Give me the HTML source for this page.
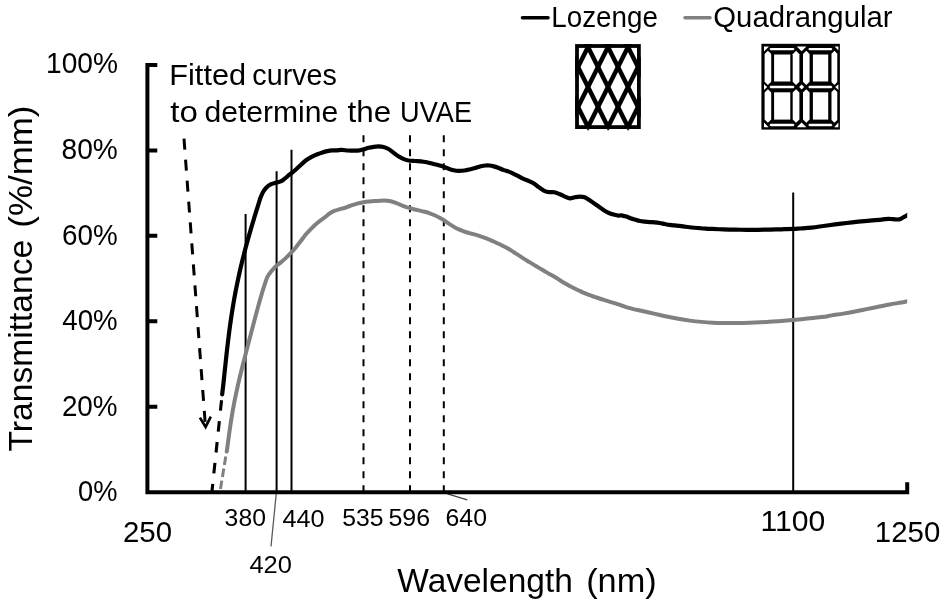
<!DOCTYPE html>
<html><head><meta charset="utf-8"><title>Transmittance chart</title>
<style>html,body{margin:0;padding:0;background:#fff;width:944px;height:605px;overflow:hidden}svg{display:block;will-change:transform}text{font-family:"Liberation Sans",sans-serif}</style>
</head><body>
<svg width="944" height="605" viewBox="0 0 944 605" font-family="Liberation Sans, sans-serif">
<rect width="944" height="605" fill="#fff"/>
<line x1="245.60" y1="214.00" x2="245.60" y2="491.00" stroke="#000" stroke-width="2.00"/>
<line x1="276.60" y1="171.30" x2="276.60" y2="491.00" stroke="#000" stroke-width="2.00"/>
<line x1="291.50" y1="149.80" x2="291.50" y2="491.00" stroke="#000" stroke-width="2.00"/>
<line x1="793.20" y1="192.50" x2="793.20" y2="491.00" stroke="#000" stroke-width="2.00"/>
<line x1="363.50" y1="135.20" x2="363.50" y2="491.00" stroke="#000" stroke-width="2.00" stroke-dasharray="7 7"/>
<line x1="410.00" y1="135.20" x2="410.00" y2="491.00" stroke="#000" stroke-width="2.00" stroke-dasharray="7 7"/>
<line x1="443.80" y1="135.20" x2="443.80" y2="491.00" stroke="#000" stroke-width="2.00" stroke-dasharray="7 7"/>
<clipPath id="plotclip"><rect x="150" y="60" width="757.20" height="440"/></clipPath>
<g clip-path="url(#plotclip)">
<path d="M226.78,451.50 C226.89,450.67 227.23,448.18 227.46,446.52 C227.68,444.86 227.90,443.20 228.12,441.54 C228.34,439.88 228.56,438.22 228.79,436.56 C229.01,434.90 229.24,433.24 229.47,431.58 C229.71,429.92 229.94,428.26 230.19,426.60 C230.43,424.94 230.68,423.28 230.94,421.62 C231.20,419.96 231.46,418.30 231.74,416.64 C232.01,414.98 232.29,413.32 232.58,411.66 C232.87,410.00 233.17,408.34 233.48,406.68 C233.79,405.02 234.11,403.36 234.43,401.70 C234.75,400.04 235.09,398.38 235.43,396.72 C235.77,395.06 236.12,393.40 236.48,391.74 C236.84,390.08 237.20,388.42 237.58,386.76 C237.95,385.10 238.33,383.44 238.71,381.78 C239.10,380.12 239.49,378.46 239.89,376.80 C240.29,375.14 240.69,373.48 241.10,371.82 C241.51,370.16 241.92,368.50 242.33,366.84 C242.75,365.18 243.17,363.52 243.59,361.86 C244.02,360.20 244.44,358.54 244.87,356.88 C245.30,355.22 245.73,353.56 246.16,351.90 C246.59,350.24 247.02,348.58 247.46,346.92 C247.89,345.26 248.32,343.60 248.76,341.94 C249.19,340.28 249.63,338.62 250.06,336.96 C250.50,335.30 250.93,333.64 251.37,331.98 C251.81,330.32 252.24,328.66 252.68,327.00 C253.12,325.34 253.55,323.68 253.99,322.02 C254.43,320.36 254.87,318.70 255.31,317.04 C255.75,315.38 256.19,313.72 256.64,312.06 C257.09,310.40 257.53,308.74 257.99,307.08 C258.45,305.42 258.90,303.76 259.37,302.10 C259.84,300.44 260.31,298.78 260.79,297.12 C261.28,295.46 261.77,293.80 262.28,292.14 C262.78,290.48 263.30,288.82 263.84,287.16 C264.37,285.50 264.92,283.84 265.49,282.18 C266.07,280.52 266.37,278.95 267.28,277.20 C268.18,275.45 269.41,273.57 270.90,271.70 C272.39,269.83 274.55,267.55 276.20,266.00 C277.85,264.45 279.22,263.72 280.80,262.40 C282.38,261.08 284.05,259.63 285.70,258.10 C287.35,256.57 289.05,254.93 290.70,253.20 C292.35,251.47 293.95,249.68 295.60,247.70 C297.25,245.72 298.95,243.45 300.60,241.30 C302.25,239.15 303.85,236.78 305.50,234.80 C307.15,232.82 308.83,231.13 310.50,229.40 C312.17,227.67 313.85,225.88 315.50,224.40 C317.15,222.92 318.78,221.73 320.40,220.50 C322.02,219.27 323.62,218.22 325.20,217.00 C326.78,215.78 328.28,214.25 329.90,213.20 C331.52,212.15 333.25,211.37 334.90,210.70 C336.55,210.03 338.15,209.68 339.80,209.20 C341.45,208.72 343.15,208.33 344.80,207.80 C346.45,207.27 348.05,206.58 349.70,206.00 C351.35,205.42 353.05,204.80 354.70,204.30 C356.35,203.80 357.95,203.38 359.60,203.00 C361.25,202.62 362.93,202.25 364.60,202.00 C366.27,201.75 367.95,201.65 369.60,201.50 C371.25,201.35 372.85,201.22 374.50,201.10 C376.15,200.98 377.85,200.88 379.50,200.80 C381.15,200.72 382.75,200.57 384.40,200.60 C386.05,200.63 387.75,200.72 389.40,201.00 C391.05,201.28 392.65,201.75 394.30,202.30 C395.95,202.85 397.53,203.57 399.30,204.30 C401.07,205.03 403.13,206.07 404.90,206.70 C406.67,207.33 408.25,207.63 409.90,208.10 C411.55,208.57 413.15,209.08 414.80,209.50 C416.45,209.92 418.15,210.22 419.80,210.60 C421.45,210.98 423.05,211.35 424.70,211.80 C426.35,212.25 428.05,212.72 429.70,213.30 C431.35,213.88 432.95,214.55 434.60,215.30 C436.25,216.05 437.93,216.90 439.60,217.80 C441.27,218.70 442.95,219.63 444.60,220.70 C446.25,221.77 447.85,223.12 449.50,224.20 C451.15,225.28 452.85,226.30 454.50,227.20 C456.15,228.10 457.75,228.87 459.40,229.60 C461.05,230.33 462.75,231.02 464.40,231.60 C466.05,232.18 467.65,232.63 469.30,233.10 C470.95,233.57 472.53,233.90 474.30,234.40 C476.07,234.90 478.13,235.53 479.90,236.10 C481.67,236.67 483.25,237.18 484.90,237.80 C486.55,238.42 488.15,239.10 489.80,239.80 C491.45,240.50 493.15,241.25 494.80,242.00 C496.45,242.75 498.05,243.50 499.70,244.30 C501.35,245.10 503.05,245.93 504.70,246.80 C506.35,247.67 507.95,248.52 509.60,249.50 C511.25,250.48 512.93,251.63 514.60,252.70 C516.27,253.77 517.95,254.83 519.60,255.90 C521.25,256.97 522.85,258.07 524.50,259.10 C526.15,260.13 527.85,261.10 529.50,262.10 C531.15,263.10 532.75,264.10 534.40,265.10 C536.05,266.10 537.75,267.12 539.40,268.10 C541.05,269.08 542.65,270.02 544.30,271.00 C545.95,271.98 547.53,273.00 549.30,274.00 C551.07,275.00 553.13,275.95 554.90,277.00 C556.67,278.05 558.25,279.25 559.90,280.30 C561.55,281.35 563.15,282.35 564.80,283.30 C566.45,284.25 568.15,285.13 569.80,286.00 C571.45,286.87 573.05,287.68 574.70,288.50 C576.35,289.32 578.05,290.12 579.70,290.90 C581.35,291.68 582.95,292.48 584.60,293.20 C586.25,293.92 587.93,294.58 589.60,295.20 C591.27,295.82 592.95,296.35 594.60,296.90 C596.25,297.45 597.85,297.97 599.50,298.50 C601.15,299.03 602.85,299.55 604.50,300.06 C606.15,300.58 607.75,301.09 609.40,301.59 C611.05,302.10 612.75,302.59 614.40,303.10 C616.05,303.61 617.65,304.09 619.30,304.65 C620.95,305.21 622.23,305.77 624.30,306.43 C626.37,307.09 628.53,307.84 631.70,308.63 C634.87,309.42 639.42,310.32 643.30,311.19 C647.18,312.07 651.12,313.00 655.00,313.88 C658.88,314.76 662.72,315.66 666.60,316.48 C670.48,317.30 674.42,318.10 678.30,318.79 C682.18,319.48 686.02,320.09 689.90,320.61 C693.78,321.12 697.72,321.54 701.60,321.88 C705.48,322.22 709.32,322.47 713.20,322.66 C717.08,322.85 721.82,322.95 724.90,323.02 C727.98,323.08 728.63,323.08 731.70,323.06 C734.77,323.03 739.42,322.97 743.30,322.88 C747.18,322.78 751.12,322.65 755.00,322.49 C758.88,322.33 762.72,322.13 766.60,321.91 C770.48,321.69 774.42,321.44 778.30,321.16 C782.18,320.89 786.02,320.58 789.90,320.25 C793.78,319.92 797.72,319.54 801.60,319.16 C805.48,318.78 809.32,318.36 813.20,317.96 C817.08,317.55 821.82,317.15 824.90,316.72 C827.98,316.29 828.63,315.87 831.70,315.36 C834.77,314.85 839.42,314.29 843.30,313.65 C847.18,313.01 851.12,312.27 855.00,311.52 C858.88,310.77 862.72,309.94 866.60,309.13 C870.48,308.33 874.42,307.47 878.30,306.69 C882.18,305.90 886.02,305.11 889.90,304.41 C893.78,303.72 898.42,303.09 901.60,302.52 C904.78,301.96 907.77,301.25 909.00,301.00" fill="none" stroke="#808080" stroke-width="4.00" stroke-linejoin="round" stroke-linecap="round"/>
<path d="M222.18,394.30 C222.28,393.46 222.57,390.95 222.76,389.27 C222.96,387.59 223.14,385.92 223.33,384.24 C223.51,382.56 223.69,380.88 223.88,379.21 C224.06,377.53 224.24,375.85 224.41,374.18 C224.59,372.50 224.77,370.82 224.95,369.15 C225.12,367.47 225.30,365.79 225.48,364.12 C225.66,362.44 225.84,360.76 226.02,359.08 C226.20,357.41 226.38,355.73 226.57,354.05 C226.75,352.38 226.94,350.70 227.13,349.02 C227.32,347.35 227.51,345.67 227.71,343.99 C227.91,342.32 228.11,340.64 228.31,338.96 C228.52,337.28 228.73,335.61 228.94,333.93 C229.15,332.25 229.37,330.58 229.60,328.90 C229.82,327.22 230.05,325.55 230.28,323.87 C230.52,322.19 230.76,320.52 231.00,318.84 C231.25,317.16 231.50,315.48 231.76,313.81 C232.02,312.13 232.29,310.45 232.56,308.78 C232.83,307.10 233.11,305.42 233.39,303.75 C233.68,302.07 233.97,300.39 234.27,298.72 C234.57,297.04 234.88,295.36 235.19,293.68 C235.51,292.01 235.83,290.33 236.16,288.65 C236.49,286.98 236.82,285.30 237.17,283.62 C237.51,281.95 237.86,280.27 238.22,278.59 C238.58,276.92 238.94,275.24 239.32,273.56 C239.69,271.88 240.07,270.21 240.46,268.53 C240.85,266.85 241.25,265.18 241.65,263.50 C242.05,261.82 242.46,260.15 242.88,258.47 C243.30,256.79 243.72,255.12 244.15,253.44 C244.58,251.76 245.02,250.08 245.47,248.41 C245.91,246.73 246.36,245.05 246.82,243.38 C247.28,241.70 247.74,240.02 248.21,238.35 C248.68,236.67 249.16,234.99 249.64,233.32 C250.12,231.64 250.61,229.96 251.10,228.28 C251.59,226.61 252.09,224.93 252.59,223.25 C253.09,221.58 253.60,219.90 254.11,218.22 C254.62,216.55 255.13,214.87 255.65,213.19 C256.17,211.52 256.69,209.84 257.21,208.16 C257.73,206.48 258.26,204.81 258.79,203.13 C259.32,201.45 259.65,199.99 260.38,198.10 C261.12,196.21 262.15,193.62 263.20,191.80 C264.25,189.98 265.45,188.45 266.70,187.20 C267.95,185.95 269.35,184.98 270.70,184.30 C272.05,183.62 273.12,183.58 274.80,183.10 C276.48,182.62 279.15,182.13 280.80,181.40 C282.45,180.67 283.38,179.73 284.70,178.70 C286.02,177.67 287.53,176.15 288.70,175.20 C289.87,174.25 290.55,173.92 291.70,173.00 C292.85,172.08 294.28,170.87 295.60,169.70 C296.92,168.53 298.27,167.23 299.60,166.00 C300.93,164.77 302.28,163.42 303.60,162.30 C304.92,161.18 306.02,160.28 307.50,159.30 C308.98,158.32 310.85,157.25 312.50,156.40 C314.15,155.55 315.75,154.87 317.40,154.20 C319.05,153.53 320.75,152.92 322.40,152.40 C324.05,151.88 325.65,151.43 327.30,151.10 C328.95,150.77 330.77,150.52 332.30,150.40 C333.83,150.28 334.90,150.48 336.50,150.40 C338.10,150.32 340.02,149.88 341.90,149.90 C343.78,149.92 345.82,150.37 347.80,150.50 C349.78,150.63 351.82,150.73 353.80,150.70 C355.78,150.67 358.05,150.53 359.70,150.30 C361.35,150.07 362.20,149.72 363.70,149.30 C365.20,148.88 367.05,148.22 368.70,147.80 C370.35,147.38 371.95,147.03 373.60,146.80 C375.25,146.57 376.95,146.37 378.60,146.40 C380.25,146.43 381.85,146.57 383.50,147.00 C385.15,147.43 386.85,148.07 388.50,149.00 C390.15,149.93 391.75,151.38 393.40,152.60 C395.05,153.82 396.75,155.25 398.40,156.30 C400.05,157.35 401.65,158.20 403.30,158.90 C404.95,159.60 406.37,160.15 408.30,160.50 C410.23,160.85 412.80,160.87 414.90,161.00 C417.00,161.13 418.92,161.08 420.90,161.30 C422.88,161.52 424.82,161.88 426.80,162.30 C428.78,162.72 430.82,163.30 432.80,163.80 C434.78,164.30 436.88,164.80 438.70,165.30 C440.52,165.80 442.05,166.23 443.70,166.80 C445.35,167.37 446.95,168.13 448.60,168.70 C450.25,169.27 451.95,169.83 453.60,170.20 C455.25,170.57 456.68,170.85 458.50,170.90 C460.32,170.95 462.52,170.78 464.50,170.50 C466.48,170.22 468.42,169.68 470.40,169.20 C472.38,168.72 474.63,168.08 476.40,167.60 C478.17,167.12 479.48,166.65 481.00,166.30 C482.52,165.95 484.08,165.63 485.50,165.50 C486.92,165.37 488.10,165.35 489.50,165.50 C490.90,165.65 492.35,165.98 493.90,166.40 C495.45,166.82 497.15,167.38 498.80,168.00 C500.45,168.62 502.15,169.50 503.80,170.10 C505.45,170.70 507.05,170.98 508.70,171.60 C510.35,172.22 512.03,173.02 513.70,173.80 C515.37,174.58 517.05,175.45 518.70,176.30 C520.35,177.15 521.95,178.13 523.60,178.90 C525.25,179.67 526.95,180.18 528.60,180.90 C530.25,181.62 532.02,182.32 533.50,183.20 C534.98,184.08 536.18,185.22 537.50,186.20 C538.82,187.18 540.08,188.23 541.40,189.10 C542.72,189.97 544.07,190.90 545.40,191.40 C546.73,191.90 547.92,191.97 549.40,192.10 C550.88,192.23 552.53,191.83 554.30,192.20 C556.07,192.57 558.23,193.57 560.00,194.30 C561.77,195.03 563.25,195.92 564.90,196.60 C566.55,197.28 568.25,198.28 569.90,198.40 C571.55,198.52 573.15,197.60 574.80,197.30 C576.45,197.00 578.15,196.60 579.80,196.60 C581.45,196.60 583.05,196.68 584.70,197.30 C586.35,197.92 588.05,199.23 589.70,200.30 C591.35,201.37 592.95,202.55 594.60,203.70 C596.25,204.85 597.93,206.03 599.60,207.20 C601.27,208.37 602.95,209.70 604.60,210.70 C606.25,211.70 607.85,212.52 609.50,213.20 C611.15,213.88 613.02,214.40 614.50,214.80 C615.98,215.20 617.25,215.52 618.40,215.60 C619.55,215.68 620.07,215.13 621.40,215.30 C622.73,215.47 624.75,216.07 626.40,216.60 C628.05,217.13 629.87,218.00 631.30,218.50 C632.73,219.00 633.57,219.18 635.00,219.60 C636.43,220.02 638.25,220.65 639.90,221.00 C641.55,221.35 643.25,221.50 644.90,221.68 C646.55,221.85 648.15,221.96 649.80,222.07 C651.45,222.19 653.15,222.22 654.80,222.38 C656.45,222.53 658.05,222.73 659.70,223.00 C661.35,223.27 663.05,223.68 664.70,224.00 C666.35,224.32 667.95,224.66 669.60,224.90 C671.25,225.14 672.93,225.28 674.60,225.45 C676.27,225.62 677.95,225.74 679.60,225.93 C681.25,226.11 682.85,226.35 684.50,226.57 C686.15,226.80 687.85,227.05 689.50,227.25 C691.15,227.45 692.75,227.60 694.40,227.75 C696.05,227.90 697.75,228.00 699.40,228.12 C701.05,228.25 702.25,228.36 704.30,228.50 C706.35,228.64 708.53,228.80 711.70,228.95 C714.87,229.10 719.42,229.28 723.30,229.40 C727.18,229.52 731.12,229.60 735.00,229.68 C738.88,229.75 742.72,229.80 746.60,229.82 C750.48,229.85 754.42,229.85 758.30,229.80 C762.18,229.75 766.02,229.64 769.90,229.55 C773.78,229.46 777.72,229.38 781.60,229.28 C785.48,229.18 790.13,229.08 793.20,228.95 C796.27,228.82 796.92,228.73 800.00,228.50 C803.08,228.27 807.82,227.99 811.70,227.57 C815.58,227.16 819.42,226.55 823.30,226.03 C827.18,225.50 831.12,224.93 835.00,224.43 C838.88,223.92 842.72,223.45 846.60,223.00 C850.48,222.55 854.42,222.10 858.30,221.70 C862.18,221.30 866.02,220.92 869.90,220.57 C873.78,220.22 878.48,219.90 881.60,219.60 C884.72,219.30 886.67,218.87 888.60,218.80 C890.53,218.73 891.45,219.10 893.20,219.20 C894.95,219.30 897.35,219.75 899.10,219.40 C900.85,219.05 902.05,217.97 903.70,217.10 C905.35,216.23 908.12,214.68 909.00,214.20" fill="none" stroke="#000" stroke-width="4.20" stroke-linejoin="round" stroke-linecap="round"/>
</g>
<line x1="222.20" y1="394.00" x2="212.00" y2="491.00" stroke="#000" stroke-width="3.10" stroke-dasharray="10.5 10.5" stroke-dashoffset="14.70"/>
<line x1="226.40" y1="452.50" x2="220.30" y2="490.00" stroke="#808080" stroke-width="3.00" stroke-dasharray="8.5 3.7" stroke-dashoffset="8.10"/>
<line x1="184.00" y1="138.70" x2="205.40" y2="426.00" stroke="#000" stroke-width="3.00" stroke-dasharray="11 10" stroke-dashoffset="0.00"/>
<polyline points="199.90,417.60 205.60,426.90 210.80,416.60" fill="none" stroke="#000" stroke-width="2.70" stroke-linejoin="miter" stroke-linecap="butt"/>
<line x1="276.20" y1="494.00" x2="271.00" y2="546.50" stroke="#595959" stroke-width="1.30"/>
<line x1="447.50" y1="493.80" x2="467.30" y2="499.90" stroke="#404040" stroke-width="1.30"/>
<path d="M157.3,64.95H147.4V492.2H907.2V482.2M147.4,150.40H157.3M147.4,235.85H157.3M147.4,321.30H157.3M147.4,406.75H157.3" fill="none" stroke="#000" stroke-width="4.00" stroke-linecap="butt" stroke-linejoin="miter"/>
<line x1="522.50" y1="17.70" x2="548.00" y2="17.70" stroke="#000" stroke-width="3.60" stroke-linecap="round"/>
<line x1="685.00" y1="17.80" x2="710.00" y2="17.80" stroke="#808080" stroke-width="3.60" stroke-linecap="round"/>
<clipPath id="lozclip"><rect x="575.10" y="44.10" width="65.70" height="84.90"/></clipPath>
<g clip-path="url(#lozclip)" stroke="#000" stroke-width="4.50"><line x1="516.55" y1="24.10" x2="579.00" y2="149.00"/><line x1="536.55" y1="24.10" x2="599.00" y2="149.00"/><line x1="556.55" y1="24.10" x2="619.00" y2="149.00"/><line x1="576.55" y1="24.10" x2="639.00" y2="149.00"/><line x1="596.55" y1="24.10" x2="659.00" y2="149.00"/><line x1="616.55" y1="24.10" x2="679.00" y2="149.00"/><line x1="636.55" y1="24.10" x2="699.00" y2="149.00"/><line x1="579.45" y1="24.10" x2="517.00" y2="149.00"/><line x1="599.45" y1="24.10" x2="537.00" y2="149.00"/><line x1="619.45" y1="24.10" x2="557.00" y2="149.00"/><line x1="639.45" y1="24.10" x2="577.00" y2="149.00"/><line x1="659.45" y1="24.10" x2="597.00" y2="149.00"/><line x1="679.45" y1="24.10" x2="617.00" y2="149.00"/><line x1="699.45" y1="24.10" x2="637.00" y2="149.00"/></g>
<rect x="577.00" y="46.00" width="61.90" height="81.10" fill="none" stroke="#000" stroke-width="3.80"/>
<rect x="587.20" y="128.5" width="2" height="1.8" fill="#222"/>
<rect x="607.20" y="128.5" width="2" height="1.8" fill="#222"/>
<rect x="627.20" y="128.5" width="2" height="1.8" fill="#222"/>
<rect x="761.40" y="43.80" width="78.50" height="85.80" fill="#000"/>
<polygon points="769.40,49.10 770.60,47.90 793.40,47.90 794.60,49.10 793.40,50.30 770.60,50.30" fill="#fff"/>
<polygon points="769.40,87.05 770.65,85.80 793.35,85.80 794.60,87.05 793.35,88.30 770.65,88.30" fill="#fff"/>
<polygon points="769.40,125.05 770.65,123.80 793.35,123.80 794.60,125.05 793.35,126.30 770.65,126.30" fill="#fff"/>
<polygon points="808.20,49.10 809.40,47.90 831.30,47.90 832.50,49.10 831.30,50.30 809.40,50.30" fill="#fff"/>
<polygon points="808.20,87.05 809.45,85.80 831.25,85.80 832.50,87.05 831.25,88.30 809.45,88.30" fill="#fff"/>
<polygon points="808.20,125.05 809.45,123.80 831.25,123.80 832.50,125.05 831.25,126.30 809.45,126.30" fill="#fff"/>
<polygon points="767.90,50.80 771.20,54.10 771.20,81.70 767.90,85.00 764.60,81.70 764.60,54.10" fill="#fff"/>
<polygon points="767.90,89.20 771.20,92.50 771.20,119.50 767.90,122.80 764.60,119.50 764.60,92.50" fill="#fff"/>
<polygon points="796.05,50.80 799.40,54.15 799.40,81.65 796.05,85.00 792.70,81.65 792.70,54.15" fill="#fff"/>
<polygon points="796.05,89.20 799.40,92.55 799.40,119.45 796.05,122.80 792.70,119.45 792.70,92.55" fill="#fff"/>
<polygon points="806.30,50.80 809.60,54.10 809.60,81.70 806.30,85.00 803.00,81.70 803.00,54.10" fill="#fff"/>
<polygon points="806.30,89.20 809.60,92.50 809.60,119.50 806.30,122.80 803.00,119.50 803.00,92.50" fill="#fff"/>
<polygon points="834.40,50.80 837.30,53.70 837.30,82.10 834.40,85.00 831.50,82.10 831.50,53.70" fill="#fff"/>
<polygon points="834.40,89.20 837.30,92.10 837.30,119.90 834.40,122.80 831.50,119.90 831.50,92.10" fill="#fff"/>
<polygon points="774.10,54.50 790.30,54.50 790.30,81.50 774.10,81.50" fill="#fff"/>
<polygon points="774.10,92.30 790.30,92.30 790.30,119.60 774.10,119.60" fill="#fff"/>
<polygon points="812.90,54.50 828.20,54.50 828.20,81.50 812.90,81.50" fill="#fff"/>
<polygon points="812.90,92.30 828.20,92.30 828.20,119.60 812.90,119.60" fill="#fff"/>
<polygon points="764.00,46.60 769.00,46.60 764.00,51.50" fill="#fff"/>
<polygon points="796.80,46.60 806.40,46.60 801.60,51.20" fill="#fff"/>
<polygon points="834.60,46.60 838.40,46.60 838.40,50.40" fill="#fff"/>
<polygon points="764.00,84.30 767.20,87.10 764.00,89.90" fill="#fff"/>
<polygon points="801.60,84.60 804.10,87.10 801.60,89.60 799.10,87.10" fill="#fff"/>
<polygon points="838.40,84.30 835.20,87.10 838.40,89.90" fill="#fff"/>
<polygon points="764.00,122.60 764.00,127.20 768.60,127.20" fill="#fff"/>
<polygon points="796.80,127.20 806.40,127.20 801.60,122.60" fill="#fff"/>
<polygon points="838.40,122.60 838.40,127.20 834.20,127.20" fill="#fff"/>
<text id="t100" x="46.02" y="73.40" font-size="30.00" textLength="71.92" lengthAdjust="spacingAndGlyphs" fill="#000" xml:space="preserve">100%</text>
<text id="t80" x="61.55" y="159.30" font-size="30.00" textLength="56.23" lengthAdjust="spacingAndGlyphs" fill="#000" xml:space="preserve">80%</text>
<text id="t60" x="62.03" y="245.00" font-size="30.00" textLength="55.66" lengthAdjust="spacingAndGlyphs" fill="#000" xml:space="preserve">60%</text>
<text id="t40" x="62.27" y="330.30" font-size="30.00" textLength="55.31" lengthAdjust="spacingAndGlyphs" fill="#000" xml:space="preserve">40%</text>
<text id="t20" x="61.88" y="415.80" font-size="30.00" textLength="55.69" lengthAdjust="spacingAndGlyphs" fill="#000" xml:space="preserve">20%</text>
<text id="t0" x="78.10" y="500.90" font-size="30.00" textLength="39.40" lengthAdjust="spacingAndGlyphs" fill="#000" xml:space="preserve">0%</text>
<text id="x250" x="123.00" y="542.40" font-size="29.50" textLength="49.02" lengthAdjust="spacingAndGlyphs" fill="#000" xml:space="preserve">250</text>
<text id="x1250" x="874.86" y="542.40" font-size="29.50" textLength="65.41" lengthAdjust="spacingAndGlyphs" fill="#000" xml:space="preserve">1250</text>
<text id="x1100" x="760.45" y="531.20" font-size="29.50" textLength="64.79" lengthAdjust="spacingAndGlyphs" fill="#000" xml:space="preserve">1100</text>
<text id="x380" x="224.62" y="526.00" font-size="23.50" textLength="41.32" lengthAdjust="spacingAndGlyphs" fill="#000" xml:space="preserve">380</text>
<text id="x440" x="282.54" y="526.60" font-size="23.50" textLength="42.06" lengthAdjust="spacingAndGlyphs" fill="#000" xml:space="preserve">440</text>
<text id="x535" x="342.25" y="526.00" font-size="23.50" textLength="41.28" lengthAdjust="spacingAndGlyphs" fill="#000" xml:space="preserve">535</text>
<text id="x596" x="388.45" y="526.00" font-size="23.50" textLength="41.76" lengthAdjust="spacingAndGlyphs" fill="#000" xml:space="preserve">596</text>
<text id="x640" x="445.59" y="526.00" font-size="23.50" textLength="41.36" lengthAdjust="spacingAndGlyphs" fill="#000" xml:space="preserve">640</text>
<text id="x420" x="249.43" y="572.90" font-size="23.50" textLength="42.51" lengthAdjust="spacingAndGlyphs" fill="#000" xml:space="preserve">420</text>
<text id="lg1" x="551.29" y="26.80" font-size="30.00" textLength="106.56" lengthAdjust="spacingAndGlyphs" fill="#000" xml:space="preserve">Lozenge</text>
<text id="lg2" x="713.28" y="26.90" font-size="30.00" textLength="179.31" lengthAdjust="spacingAndGlyphs" fill="#000" xml:space="preserve">Quadrangular</text>
<text id="xt1" x="397.28" y="591.80" font-size="32.80" textLength="175.60" lengthAdjust="spacingAndGlyphs" fill="#000" xml:space="preserve">Wavelength</text>
<text id="xt2" x="586.19" y="591.80" font-size="32.80" textLength="70.56" lengthAdjust="spacingAndGlyphs" fill="#000" xml:space="preserve">(nm)</text>
<text id="yt1" x="32.00" y="451.41" font-size="32.80" textLength="211.66" lengthAdjust="spacingAndGlyphs" transform="rotate(-90 32.00 451.41)" fill="#000" xml:space="preserve">Transmittance</text>
<text id="yt2" x="32.00" y="227.74" font-size="32.80" textLength="122.17" lengthAdjust="spacingAndGlyphs" transform="rotate(-90 32.00 227.74)" fill="#000" xml:space="preserve">(%/mm)</text>
<text id="an1a" x="169.28" y="84.60" font-size="29.60" textLength="76.83" lengthAdjust="spacingAndGlyphs" fill="#000" xml:space="preserve">Fitted</text>
<text id="an1b" x="252.35" y="84.60" font-size="29.60" textLength="84.57" lengthAdjust="spacingAndGlyphs" fill="#000" xml:space="preserve">curves</text>
<text id="an2a" x="170.30" y="122.30" font-size="29.60" textLength="27.59" lengthAdjust="spacingAndGlyphs" fill="#000" xml:space="preserve">to</text>
<text id="an2b" x="204.45" y="122.30" font-size="29.60" textLength="133.85" lengthAdjust="spacingAndGlyphs" fill="#000" xml:space="preserve">determine</text>
<text id="an2c" x="347.46" y="122.30" font-size="29.60" textLength="43.67" lengthAdjust="spacingAndGlyphs" fill="#000" xml:space="preserve">the</text>
<text id="an2d" x="400.10" y="122.30" font-size="29.60" textLength="71.91" lengthAdjust="spacingAndGlyphs" fill="#000" xml:space="preserve">UVAE</text>
</svg>
</body></html>
